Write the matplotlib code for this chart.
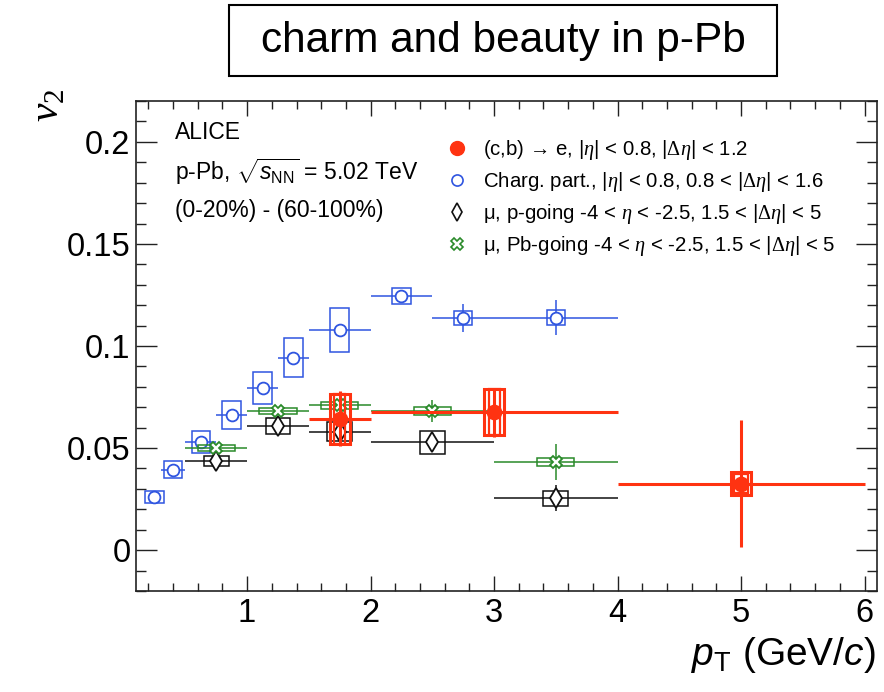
import matplotlib
matplotlib.use("Agg")
import matplotlib.pyplot as plt
from matplotlib.lines import Line2D
from matplotlib.patches import Rectangle
from matplotlib.ticker import MultipleLocator
import numpy as np

plt.rcParams['font.family'] = ['Liberation Sans', 'DejaVu Sans']
plt.rcParams['mathtext.fontset'] = 'custom'
plt.rcParams['mathtext.rm'] = 'Liberation Sans'
plt.rcParams['mathtext.it'] = 'Liberation Sans:italic'
plt.rcParams['mathtext.sf'] = 'Liberation Serif:italic'
plt.rcParams['mathtext.bf'] = 'Liberation Serif'

# ---------------- data ----------------
# charged particles
ch_x = [0.25, 0.4, 0.625, 0.875, 1.125, 1.375, 1.75, 2.25, 2.75, 3.5]
ch_xlo = [0.2, 0.3, 0.5, 0.75, 1.0, 1.25, 1.5, 2.0, 2.5, 3.0]
ch_xhi = [0.3, 0.5, 0.75, 1.0, 1.25, 1.5, 2.0, 2.5, 3.0, 4.0]
ch_y = [0.0261, 0.0395, 0.0531, 0.0662, 0.0795, 0.0942, 0.1077, 0.1245, 0.1138, 0.1139]
ch_stat = [0.0005, 0.0007, 0.0008, 0.0010, 0.0012, 0.0015, 0.0020, 0.0030, 0.0069, 0.0085]
ch_sys = [0.0028, 0.0040, 0.0053, 0.0068, 0.0078, 0.0095, 0.0108, 0.0037, 0.0035, 0.0035]

# heavy-flavour electrons
hfe_x = [1.75, 3.0, 5.0]
hfe_xlo = [1.5, 2.0, 4.0]
hfe_xhi = [2.0, 4.0, 6.0]
hfe_y = [0.0644, 0.0676, 0.0326]
hfe_stat = [0.0134, 0.0120, 0.0312]
hfe_sys = [0.0122, 0.0112, 0.0057]
hfe_sys2 = [0.0122, 0.0112, 0.0047]

# muons p-going
mp_x = [0.75, 1.25, 1.75, 2.5, 3.5]
mp_xlo = [0.5, 1.0, 1.5, 2.0, 3.0]
mp_xhi = [1.0, 1.5, 2.0, 3.0, 4.0]
mp_y = [0.0437, 0.0608, 0.0580, 0.0528, 0.0254]
mp_stat = [0.0010, 0.0015, 0.0020, 0.0030, 0.0064]
mp_sys = [0.0025, 0.0041, 0.0046, 0.0055, 0.0037]

# muons Pb-going
mpb_x = [0.75, 1.25, 1.75, 2.5, 3.5]
mpb_xlo = [0.5, 1.0, 1.5, 2.0, 3.0]
mpb_xhi = [1.0, 1.5, 2.0, 3.0, 4.0]
mpb_y = [0.0499, 0.0680, 0.0709, 0.0680, 0.0432]
mpb_stat = [0.0012, 0.0020, 0.0025, 0.0054, 0.0086]
mpb_sys = [0.0015, 0.0015, 0.0016, 0.0019, 0.0018]

labels = [r'(c,b) → e, |$\mathsf{\eta}$| < 0.8, |$\mathbf{\Delta}\mathsf{\eta}$| < 1.2',
          r'Charg. part., |$\mathsf{\eta}$| < 0.8, 0.8 < |$\mathbf{\Delta}\mathsf{\eta}$| < 1.6',
          r'μ, p-going -4 < $\mathsf{\eta}$ < -2.5, 1.5 < |$\mathbf{\Delta}\mathsf{\eta}$| < 5',
          r'μ, Pb-going -4 < $\mathsf{\eta}$ < -2.5, 1.5 < |$\mathbf{\Delta}\mathsf{\eta}$| < 5']

C_RED = '#ff3311'
C_BLUE = '#2f55e0'
C_BLACK = '#111111'
C_GREEN = '#2a8a2a'

fig = plt.figure(figsize=(8.84, 6.92), dpi=100)
ax = fig.add_axes([0.1538, 0.146, 0.8382, 0.708])


def draw(x, xlo, xhi, y, stat, sys, color, marker, ms, mfc, lw, boxw, z):
    x = np.asarray(x); y = np.asarray(y)
    xerr = [x - np.asarray(xlo), np.asarray(xhi) - x]
    sys = np.asarray(sys)
    ax.bar(x, 2 * sys, width=boxw, bottom=y - sys, fill=False,
           edgecolor=color, linewidth=lw, zorder=z)
    ax.errorbar(x, y, xerr=xerr, yerr=stat, fmt='none', ecolor=color,
                elinewidth=lw, capsize=0, zorder=z + 0.1)
    ax.plot(x, y, linestyle='none', marker=marker, markersize=ms,
            markerfacecolor=mfc, markeredgecolor=color, markeredgewidth=1.3,
            zorder=z + 0.2)


draw(ch_x, ch_xlo, ch_xhi, ch_y, ch_stat, ch_sys, C_BLUE, 'o', 8.5, 'white', 1.1, 0.15, 2)
draw(mp_x, mp_xlo, mp_xhi, mp_y, mp_stat, mp_sys, C_BLACK, 'd', 10, 'white', 1.1, 0.2, 3)
draw(mpb_x, mpb_xlo, mpb_xhi, mpb_y, mpb_stat, mpb_sys, C_GREEN, 'X', 9, 'white', 1.1, 0.3, 4)
draw(hfe_x, hfe_xlo, hfe_xhi, hfe_y, hfe_stat, hfe_sys, C_RED, 'o', 10, C_RED, 2.2, 0.16, 5)
ax.bar(hfe_x, 2 * np.asarray(hfe_sys2), width=[0.09, 0.09, 0.12],
       bottom=np.asarray(hfe_y) - np.asarray(hfe_sys2), fill=False,
       edgecolor=C_RED, linewidth=1.6, zorder=5)

ax.set_xlim(0.1, 6.1)
ax.set_ylim(-0.02, 0.22)
ax.xaxis.set_minor_locator(MultipleLocator(0.2))
ax.yaxis.set_minor_locator(MultipleLocator(0.01))
ax.set_xticks([1, 2, 3, 4, 5, 6])
ax.set_xticklabels(['1', '2', '3', '4', '5', '6'])
ax.set_yticks([0, 0.05, 0.1, 0.15, 0.2])
ax.set_yticklabels(['0', '0.05', '0.1', '0.15', '0.2'])
ax.tick_params(axis='both', which='both', direction='in', top=True, right=True,
               width=1.0, colors='#222222', labelcolor='black', labelsize=23.5)
ax.tick_params(axis='x', which='major', length=11, pad=5)
ax.tick_params(axis='x', which='minor', length=5.5)
ax.tick_params(axis='y', which='major', length=15, pad=4)
ax.tick_params(axis='y', which='minor', length=7.5)
for s in ax.spines.values():
    s.set_linewidth(1.2)
    s.set_color('#222222')

# text block
ax.text(0.053, 0.935, 'ALICE', transform=ax.transAxes, fontsize=16.5, va='center', ha='left')
ax.text(0.053, 0.855, r'p-Pb, $\sqrt{s_{\mathrm{NN}}}$ = 5.02 TeV', transform=ax.transAxes,
        fontsize=16.5, va='center', ha='left')
ax.text(0.053, 0.776, '(0-20%) - (60-100%)', transform=ax.transAxes, fontsize=16.5,
        va='center', ha='left')

handles = [
    Line2D([], [], linestyle='none', marker='o', markersize=10, color=C_RED, markeredgecolor=C_RED),
    Line2D([], [], linestyle='none', marker='o', markersize=8, markerfacecolor='white',
           markeredgecolor=C_BLUE, markeredgewidth=1.2),
    Line2D([], [], linestyle='none', marker='d', markersize=9, markerfacecolor='white',
           markeredgecolor=C_BLACK, markeredgewidth=1.2),
    Line2D([], [], linestyle='none', marker='X', markersize=8.5, markerfacecolor='white',
           markeredgecolor=C_GREEN, markeredgewidth=1.2),
]
ax.legend(handles, labels, loc='upper left', bbox_to_anchor=(0.421, 0.925), frameon=False,
          fontsize=14.7, handlelength=0.85, handletextpad=0.85, labelspacing=0.40,
          borderpad=0, borderaxespad=0)

# axis titles
fig.text(876 / 884, 1 - 655 / 692, r'$p_{\mathrm{T}}$ (GeV/$c$)', ha='right', va='center',
         fontsize=28)
fig.text(47 / 884, 1 - 105 / 692, r'$\mathsf{\nu}_{\mathbf{2}}$', ha='center', va='center',
         fontsize=30, rotation=90)

# title box
fig.patches.append(Rectangle((229 / 884, 1 - 76 / 692), 548 / 884, 71 / 692,
                             transform=fig.transFigure, fill=False, linewidth=1.5,
                             edgecolor='black'))
fig.text(503 / 884, 1 - 41 / 692, 'charm and beauty in p-Pb', ha='center', va='center',
         fontsize=30.5)

fig.savefig('out.png', dpi=100)
